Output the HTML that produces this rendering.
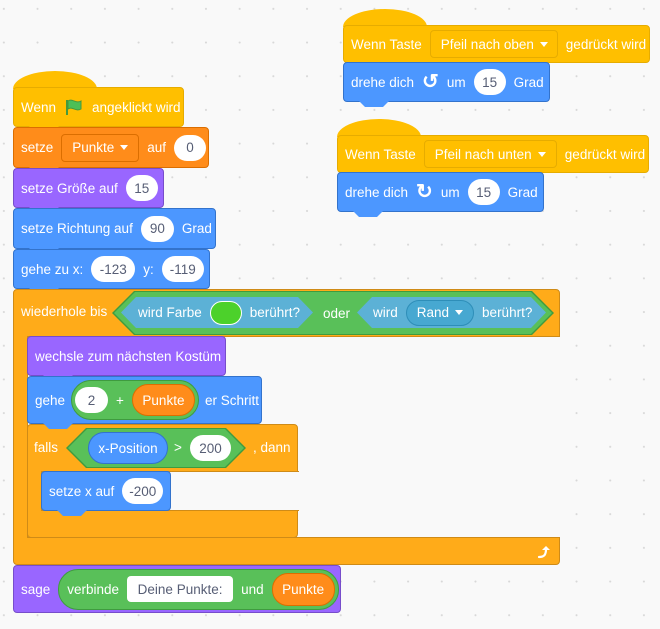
<!DOCTYPE html>
<html><head><style>
body{margin:0;width:660px;height:629px;background:#f9f9f9;background-image:radial-gradient(circle,#d8d8d8 0.8px,transparent 1.2px);background-size:33.7px 33.7px;background-position:-13px -8px;font-family:"Liberation Sans",sans-serif;font-size:13.5px;color:#fff;position:relative;overflow:hidden}
.b{position:absolute;box-sizing:border-box;border-radius:4px;display:flex;align-items:center;padding-left:7px;gap:8px;white-space:nowrap}
.tab{position:absolute;height:6px;width:30px;left:15px;bottom:-6px;clip-path:polygon(0 0,100% 0,80% 100%,20% 100%)}
.p{background:#fff;color:#575e75;border-radius:14px;height:26px;display:flex;align-items:center;justify-content:center;box-sizing:border-box}
.hat{position:absolute;width:84px;height:18px;border-radius:50% 50% 0 0/100% 100% 0 0}
.dd{border-radius:4px;height:28px;display:flex;align-items:center;padding:0 10px;box-sizing:border-box;gap:6px}
.tri{width:0;height:0;border-left:4px solid transparent;border-right:4px solid transparent;border-top:5px solid #fff}
.abs{position:absolute;display:flex;align-items:center;box-sizing:border-box;white-space:nowrap}
.Y{background:#ffbf00;border:1px solid #e6ac00}.O{background:#ff8c1a;border:1px solid #db6e00}.P{background:#9966ff;border:1px solid #774dcb}.B{background:#4c97ff;border:1px solid #3373cc}.C{background:#ffab19;border:1px solid #cf8b17}
.rot{font-size:20px;font-weight:bold;line-height:1}
</style></head><body>

<div class="hat" style="left:343px;top:9px;background:#ffbf00"></div>
<div class="b Y" style="left:343px;top:25px;width:307px;height:38px">Wenn Taste<div class="dd" style="border:1px solid #e6ac00;background:#ffbf00;width:128px">Pfeil nach oben<div class="tri"></div></div>gedrückt wird</div>
<div class="b B" style="left:343px;top:62px;width:207px;height:40px">drehe dich <span class="rot">↺</span> um<div class="p" style="width:32px">15</div>Grad<div class="tab" style="background:#4c97ff"></div></div>

<div class="hat" style="left:337px;top:119px;background:#ffbf00"></div>
<div class="b Y" style="left:337px;top:135px;width:312px;height:38px">Wenn Taste<div class="dd" style="border:1px solid #e6ac00;background:#ffbf00;width:133px">Pfeil nach unten<div class="tri"></div></div>gedrückt wird</div>
<div class="b B" style="left:337px;top:172px;width:207px;height:40px">drehe dich <span class="rot">↻</span> um<div class="p" style="width:32px">15</div>Grad<div class="tab" style="background:#4c97ff"></div></div>

<div class="hat" style="left:13px;top:71px;background:#ffbf00"></div>
<div class="b Y" style="left:13px;top:87px;width:171px;height:40px">Wenn <svg width="20" height="18" viewBox="0 0 20 18"><path d="M3 2v15" stroke="#45993d" stroke-width="2"/><path d="M4 3c4-3 8 3 13 0v8c-5 3-9-3-13 0z" fill="#4cbf56" stroke="#45993d"/></svg> angeklickt wird<div class="tab" style="background:#ffbf00"></div></div>
<div class="b O" style="left:13px;top:127px;width:196px;height:41px">setze<div class="dd" style="border:1px solid #db6e00;width:78px">Punkte<div class="tri"></div></div>auf<div class="p" style="width:32px">0</div><div class="tab" style="background:#ff8c1a"></div></div>
<div class="b P" style="left:13px;top:168px;width:151px;height:40px">setze Größe auf<div class="p" style="width:32px">15</div><div class="tab" style="background:#9966ff"></div></div>
<div class="b B" style="left:13px;top:208px;width:203px;height:41px">setze Richtung auf<div class="p" style="width:33px">90</div>Grad<div class="tab" style="background:#4c97ff"></div></div>
<div class="b B" style="left:13px;top:249px;width:197px;height:40px">gehe zu x:<div class="p" style="width:44px">-123</div>y:<div class="p" style="width:42px">-119</div><div class="tab" style="background:#4c97ff"></div></div>

<!-- repeat until C -->
<div class="abs" style="left:13px;top:289px;width:547px;height:276px;background:#ffab19;border:1px solid #cf8b17;border-radius:4px"></div>
<div class="abs" style="left:27px;top:336px;width:533px;height:202px;background:#f9f9f9;border-left:1px solid #cf8b17;border-top:1px solid #cf8b17;border-bottom:1px solid #cf8b17"></div>
<div class="abs" style="left:560px;top:335px;width:2px;height:204px;background:#f9f9f9"></div>
<div class="abs" style="left:21px;top:304px">wiederhole bis</div>
<svg style="position:absolute;left:536px;top:544px" width="16" height="16" viewBox="0 0 16 16"><path d="M3 13c5 0 7-2 7-8" fill="none" stroke="#fff" stroke-width="2.2" stroke-linecap="round"/><path d="M6 6l4-4 4 4z" fill="#fff"/></svg>

<div class="abs" style="left:112px;top:291px;width:442px;height:44px;background:#3f9b3f;clip-path:polygon(22px 0,420px 0,100% 50%,420px 100%,22px 100%,0 50%)"></div>
<div class="abs" style="left:114px;top:292px;width:438px;height:42px;background:#59c059;clip-path:polygon(21px 0,417px 0,100% 50%,417px 100%,21px 100%,0 50%)"><span style="position:absolute;left:209px">oder</span></div>
<div class="abs" style="left:121px;top:297px;width:192px;height:31px;background:#5cb1d6;clip-path:polygon(15px 0,177px 0,100% 50%,177px 100%,15px 100%,0 50%);padding-left:17px;gap:8px">wird Farbe<div style="width:32px;height:24px;border-radius:12px;background:#4cd12b;border:1px solid #fff;box-sizing:border-box"></div>berührt?</div>
<div class="abs" style="left:357px;top:297px;width:189px;height:31px;background:#5cb1d6;clip-path:polygon(15px 0,174px 0,100% 50%,174px 100%,15px 100%,0 50%);padding-left:16px;gap:8px">wird<div style="background:#47a8d1;border:1px solid #2e8eb8;border-radius:14px;height:26px;padding:0 10px;display:flex;align-items:center;gap:6px;box-sizing:border-box">Rand<div class="tri"></div></div>berührt?</div>

<div class="b P" style="left:27px;top:336px;width:199px;height:40px">wechsle zum nächsten Kostüm<div class="tab" style="background:#9966ff"></div></div>

<!-- falls C -->
<div class="abs" style="left:27px;top:424px;width:271px;height:114px;background:#ffab19;border:1px solid #cf8b17;border-radius:4px"></div>
<div class="abs" style="left:41px;top:471px;width:258px;height:40px;background:#f9f9f9;border-left:1px solid #cf8b17;border-top:1px solid #cf8b17;border-bottom:1px solid #cf8b17"></div>
<div class="abs" style="left:34px;top:440px">falls</div>
<div class="abs" style="left:66px;top:428px;width:180px;height:40px;background:#3f9b3f;clip-path:polygon(20px 0,160px 0,100% 50%,160px 100%,20px 100%,0 50%)"></div>
<div class="abs" style="left:68px;top:429px;width:176px;height:38px;background:#59c059;clip-path:polygon(19px 0,157px 0,100% 50%,157px 100%,19px 100%,0 50%)"></div>
<div class="abs" style="left:88px;top:432px;width:80px;height:32px;background:#4c97ff;border:1px solid #3373cc;border-radius:16px;justify-content:center">x-Position</div>
<div class="abs" style="left:174px;top:440px">&gt;</div>
<div class="abs p" style="left:190px;top:435px;width:41px">200</div>
<div class="abs" style="left:253px;top:440px">, dann</div>

<div class="b B" style="left:27px;top:376px;width:235px;height:48px;gap:6px">gehe<div style="display:flex;align-items:center;gap:8px;background:#59c059;border:1px solid #3f9b3f;border-radius:20px;height:40px;padding:0 3px;box-sizing:border-box"><div class="p" style="width:33px">2</div>+<div style="background:#ff8c1a;border:1px solid #db6e00;border-radius:16px;height:32px;width:63px;display:flex;align-items:center;justify-content:center;box-sizing:border-box">Punkte</div></div>er Schritt<div class="tab" style="background:#4c97ff"></div></div>

<div class="b B" style="left:41px;top:471px;width:130px;height:40px">setze x auf<div class="p" style="width:41px">-200</div><div class="tab" style="background:#4c97ff"></div></div>

<div class="b P" style="left:13px;top:565px;width:328px;height:48px">sage<div style="display:flex;align-items:center;gap:8px;background:#59c059;border:1px solid #3f9b3f;border-radius:20px;height:41px;padding:0 3px 0 8px;box-sizing:border-box">verbinde<div class="p" style="width:106px;border-radius:4px">Deine Punkte:</div>und<div style="background:#ff8c1a;border:1px solid #db6e00;border-radius:16px;height:33px;width:63px;display:flex;align-items:center;justify-content:center;box-sizing:border-box">Punkte</div></div></div>

</body></html>
